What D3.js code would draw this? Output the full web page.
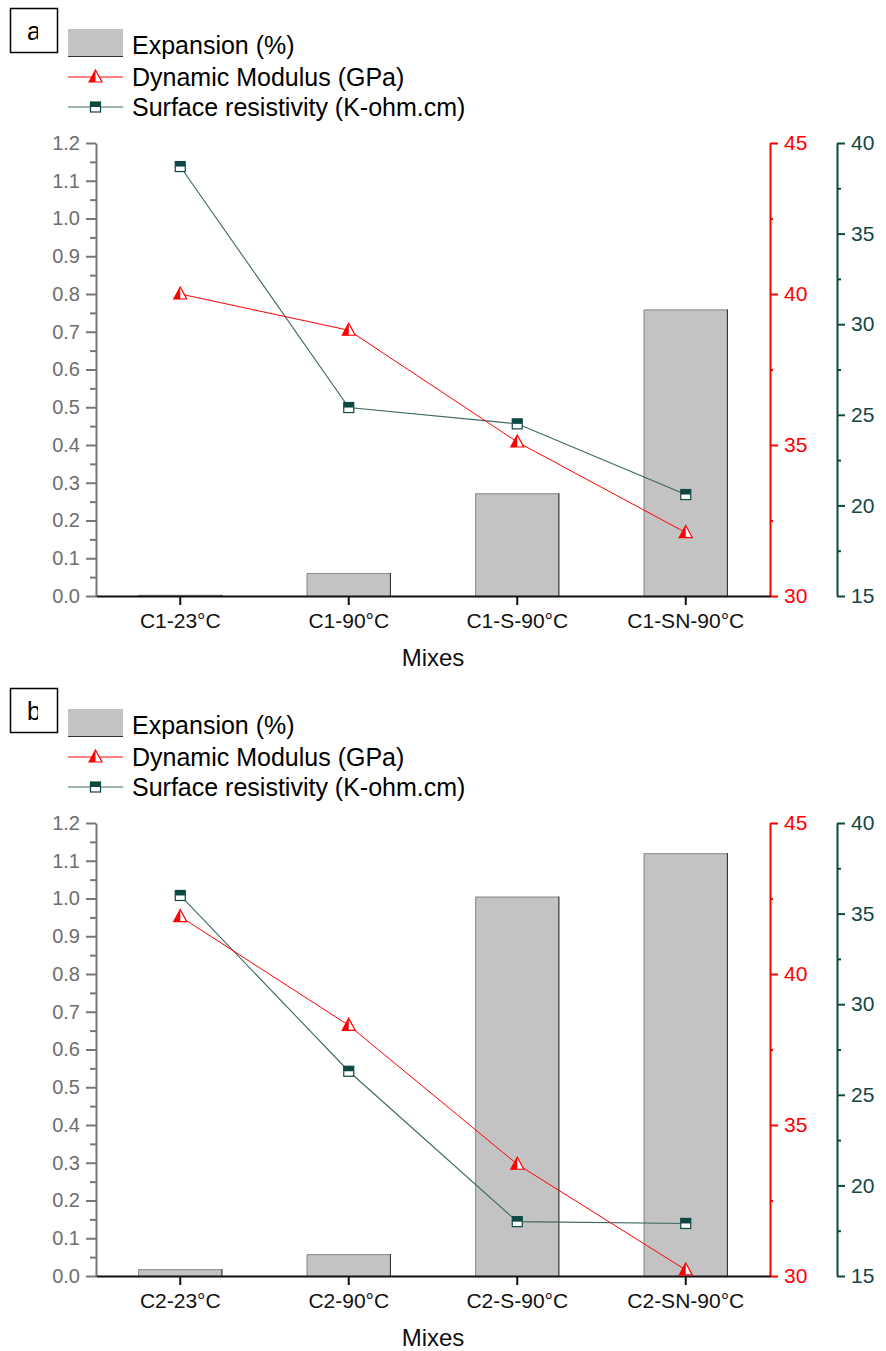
<!DOCTYPE html>
<html>
<head>
<meta charset="utf-8">
<script src="https://cdn.jsdelivr.net/npm/d3@7"></script>
<style>
  body { margin: 0; background: #fff; }
  svg { display: block; font-family: "Liberation Sans", Arial, sans-serif; }
</style>
</head>
<body>
<svg width="886" height="1351"></svg>
<script>
// data
var mixesA = ['C1-23°C', 'C1-90°C', 'C1-S-90°C', 'C1-SN-90°C'];
var expansionA = [0.003, 0.061, 0.272, 0.759];
var modulusA = [40.0, 38.8, 35.1, 32.1];
var resistA = [38.7, 25.4, 24.5, 20.6];

var mixesB = ['C2-23°C', 'C2-90°C', 'C2-S-90°C', 'C2-SN-90°C'];
var expansionB = [0.018, 0.058, 1.005, 1.12];
var modulusB = [41.9, 38.3, 33.7, 30.2];
var resistB = [36.0, 26.3, 18.0, 17.9];

var expTicks = d3.range(0, 13).map(function(i) { return i / 10; });
var expMinor = d3.range(0, 12).map(function(i) { return i / 10 + 0.05; });
var modTicks = [30, 35, 40, 45];
var modMinor = [32.5, 37.5, 42.5];
var resTicks = [15, 20, 25, 30, 35, 40];
var resMinor = [17.5, 22.5, 27.5, 32.5, 37.5];

var legendNames = ['Expansion (%)', 'Dynamic Modulus (GPa)', 'Surface resistivity (K-ohm.cm)'];

var red = '#ff0000';
var teal = '#0e4743';
var tealLine = '#3a6662';
var grey = '#767676';

var svg = d3.select('svg');
var plot = {left: 96, right: 770, right2: 837, top: 143, bottom: 596};

function triangle(g, x, y) {
    var s = 6.5;
    g.append('path')
        .attr('d', 'M' + (x - s) + ',' + (y + 5) + 'L' + x + ',' + (y - 7) + 'L' + (x + s) + ',' + (y + 5) + 'Z')
        .attr('fill', '#fff').attr('stroke', red).attr('stroke-width', 1.2);
    g.append('path')
        .attr('d', 'M' + (x - s) + ',' + (y + 5) + 'L' + x + ',' + (y - 7) + 'L' + x + ',' + (y + 5) + 'Z')
        .attr('fill', red);
}

function square(g, x, y) {
    g.append('rect').attr('x', x - 5).attr('y', y - 5).attr('width', 10).attr('height', 10)
        .attr('fill', '#fff').attr('stroke', teal).attr('stroke-width', 1.2);
    g.append('rect').attr('x', x - 5).attr('y', y - 5).attr('width', 10).attr('height', 5)
        .attr('fill', teal);
}

function styleAxis(a, color, textColor, size) {
    a.select('.domain').attr('stroke', color).attr('stroke-width', 2);
    a.selectAll('.tick line').attr('stroke', color).attr('stroke-width', 2);
    a.selectAll('text').attr('fill', textColor).style('font-size', size + 'px')
        .style('font-family', '"Liberation Sans", Arial, sans-serif');
}

function drawPanel(offset, letter, mixes, expansion, modulus, resist) {
    var g = svg.append('g').attr('transform', 'translate(0,' + offset + ')');

    var x = d3.scaleBand().domain(mixes).range([plot.left, plot.right]).paddingInner(0.5).paddingOuter(0.25);
    var xc = function(d) { return x(d) + x.bandwidth() / 2; };
    var y = d3.scaleLinear().domain([0, 1.2]).range([plot.bottom, plot.top]);
    var yMod = d3.scaleLinear().domain([30, 45]).range([plot.bottom, plot.top]);
    var yRes = d3.scaleLinear().domain([15, 40]).range([plot.bottom, plot.top]);

    // bars
    var bars = g.append('g');
    mixes.forEach(function(m, i) {
        var x0 = x(m), x1 = x(m) + x.bandwidth(), yt = y(expansion[i]);
        bars.append('rect')
            .attr('x', x0).attr('y', yt)
            .attr('width', x.bandwidth()).attr('height', plot.bottom - yt)
            .attr('fill', '#c3c3c3');
        bars.append('path')
            .attr('d', 'M' + (x0 + 0.5) + ',' + plot.bottom + 'V' + (yt + 0.5) + 'H' + (x1 - 0.5))
            .attr('fill', 'none').attr('stroke', '#8a8a8a').attr('stroke-width', 1);
        bars.append('path')
            .attr('d', 'M' + (x1 - 0.5) + ',' + yt + 'V' + plot.bottom)
            .attr('fill', 'none').attr('stroke', '#222').attr('stroke-width', 1);
    });

    // left axis
    var la = g.append('g').attr('transform', 'translate(' + plot.left + ',0)')
        .call(d3.axisLeft(y).tickValues(expTicks).tickFormat(d3.format('.1f')).tickSize(10).tickSizeOuter(0).tickPadding(6));
    styleAxis(la, grey, '#6e6e6e', 20);
    var lm = g.append('g').attr('transform', 'translate(' + plot.left + ',0)')
        .call(d3.axisLeft(y).tickValues(expMinor).tickFormat('').tickSize(6).tickSizeOuter(0));
    styleAxis(lm, grey, grey, 20);
    lm.select('.domain').remove();

    // red axis
    var ra = g.append('g').attr('transform', 'translate(' + plot.right + ',0)')
        .call(d3.axisRight(yMod).tickValues(modTicks).tickSize(8).tickSizeOuter(0).tickPadding(6));
    styleAxis(ra, red, red, 21);
    var rm = g.append('g').attr('transform', 'translate(' + plot.right + ',0)')
        .call(d3.axisRight(yMod).tickValues(modMinor).tickFormat('').tickSize(3).tickSizeOuter(0));
    styleAxis(rm, red, red, 21);
    rm.select('.domain').remove();

    // teal axis
    var ta = g.append('g').attr('transform', 'translate(' + plot.right2 + ',0)')
        .call(d3.axisRight(yRes).tickValues(resTicks).tickSize(8).tickSizeOuter(0).tickPadding(6));
    styleAxis(ta, teal, teal, 21);
    var tm = g.append('g').attr('transform', 'translate(' + plot.right2 + ',0)')
        .call(d3.axisRight(yRes).tickValues(resMinor).tickFormat('').tickSize(4).tickSizeOuter(0));
    styleAxis(tm, teal, teal, 21);
    tm.select('.domain').remove();

    // x axis
    var xa = g.append('g').attr('transform', 'translate(0,' + plot.bottom + ')')
        .call(d3.axisBottom(x).tickSize(9).tickSizeOuter(0).tickPadding(8));
    styleAxis(xa, '#111', '#111', 21);

    g.append('text').attr('x', (plot.left + plot.right) / 2).attr('y', plot.bottom + 70)
        .attr('text-anchor', 'middle').style('font-size', '24px').attr('fill', '#111').text('Mixes');

    // lines
    var lineMod = d3.line().x(function(d, i) { return xc(mixes[i]); }).y(function(d) { return yMod(d); });
    var lineRes = d3.line().x(function(d, i) { return xc(mixes[i]); }).y(function(d) { return yRes(d); });
    g.append('path').attr('d', lineRes(resist)).attr('fill', 'none').attr('stroke', tealLine).attr('stroke-width', 1.1);
    g.append('path').attr('d', lineMod(modulus)).attr('fill', 'none').attr('stroke', red).attr('stroke-width', 1);
    modulus.forEach(function(v, i) { triangle(g, xc(mixes[i]), yMod(v)); });
    resist.forEach(function(v, i) { square(g, xc(mixes[i]), yRes(v)); });

    // panel letter box
    var clipId = 'clip' + letter;
    g.append('clipPath').attr('id', clipId).append('rect').attr('x', 10).attr('y', 8).attr('width', 28).attr('height', 45);
    g.append('rect').attr('x', 10.5).attr('y', 8.5).attr('width', 47).attr('height', 44)
        .attr('fill', '#fff').attr('stroke', '#000').attr('stroke-width', 1.5);
    g.append('text').attr('x', 27).attr('y', 40).attr('clip-path', 'url(#' + clipId + ')')
        .style('font-size', '25px').attr('fill', '#000').text(letter);

    // legend
    var lg = g.append('g');
    lg.append('rect').attr('x', 68).attr('y', 29).attr('width', 55).attr('height', 28).attr('fill', '#c3c3c3');
    lg.append('line').attr('x1', 68).attr('x2', 123).attr('y1', 56.5).attr('y2', 56.5).attr('stroke', '#333');
    lg.append('line').attr('x1', 68).attr('x2', 123).attr('y1', 77).attr('y2', 77).attr('stroke', red);
    triangle(lg, 95.5, 77);
    lg.append('line').attr('x1', 68).attr('x2', 123).attr('y1', 107).attr('y2', 107).attr('stroke', tealLine);
    square(lg, 95.5, 107);
    [45, 77, 107].forEach(function(yy, i) {
        lg.append('text').attr('x', 132).attr('y', yy).attr('dy', '0.35em')
            .style('font-size', '25px').attr('fill', '#000').text(legendNames[i]);
    });
}

drawPanel(0, 'a', mixesA, expansionA, modulusA, resistA);
drawPanel(680, 'b', mixesB, expansionB, modulusB, resistB);
</script>
</body>
</html>
